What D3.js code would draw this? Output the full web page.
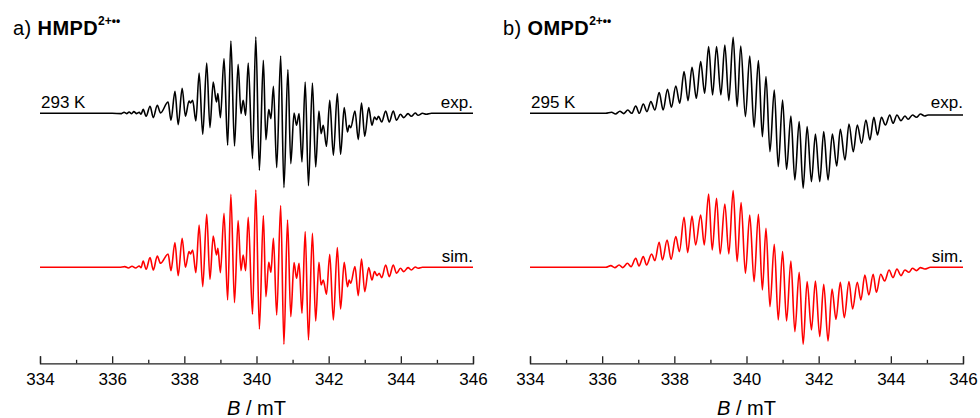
<!DOCTYPE html>
<html><head><meta charset="utf-8">
<script src="https://cdn.jsdelivr.net/npm/d3@7"></script>
<style>
body{margin:0;background:#fff}
text{font-family:"Liberation Sans",Arial,Helvetica,sans-serif;fill:#000}
</style>
</head><body>
<svg id="chart" width="980" height="418"></svg>
<script>
// ---- data (B in mT, intensity in arbitrary units) ----
const majorTicks = [334, 336, 338, 340, 342, 344, 346];
const minorTicks = [335, 337, 339, 341, 343, 345];
const xDomain = [334, 346];

const hmpdExp = [[334,0],[336.0,0],[336.26,-0.3],[336.33,1],[336.40,-0.3],[336.47,1.3],[336.54,-0.3],[336.60,1.7],[336.68,-0.3],[336.75,1],[336.80,-1],
[336.86,4],[336.94,-3],[337.05,7],[337.14,-4.3],[337.25,8],[337.34,0.3],[337.55,11.3],[337.63,-7],[337.74,22],[337.83,-11.3],[337.94,25],[338.03,-3],[338.13,12.3],[338.17,10.3],[338.23,13],[338.32,-7.7],[338.41,40.3],[338.51,-21],[338.62,50.3],[338.71,-14.3],[338.80,31.3],[338.89,11.3],[338.93,19.7],[339.00,-4.3],[339.10,54.7],[339.20,-32],[339.29,72.3],[339.39,-32.7],[339.49,49],[339.57,-0.3],[339.63,13],[339.70,-2],[339.77,50.3],[339.89,-45.3],[339.98,76.3],[340.08,-57],[340.19,53],[340.26,-26.3],[340.34,3.7],[340.40,-5.3],[340.47,27],[340.56,-54.3],[340.67,57.3],[340.76,-74.3],[340.87,43.7],[340.95,-50.3],[341.04,0.3],[341.11,-12],[341.18,-0.3],[341.26,-48.7],[341.35,31.3],[341.44,-72.3],[341.55,30.3],[341.64,-53.7],[341.73,2.3],[341.79,-20.3],[341.85,-12],[341.94,-33],[342.03,13],[342.13,-42],[342.24,19.7],[342.33,-41],[342.43,5.7],[342.52,-18.7],[342.57,-12],[342.61,-14.3],[342.73,2.3],[342.82,-26.3],[342.91,10.3],[343.00,-23],[343.11,5.7],[343.20,-12],[343.27,-3.7],[343.33,-6.3],[343.38,-3],[343.47,-8.7],[343.58,2.3],[343.68,-8.7],[343.79,2.3],[343.88,-7],[343.99,-1],[344.08,-4.3],[344.20,-0.3],[344.29,-3],[344.40,0.3],[344.48,-2],[344.6,0],[344.7,-1],[344.85,0],[346,0]];

const hmpdSim = [[334,0],[336.2,0],[336.35,0.7],[336.45,-0.7],[336.55,1],[336.65,-0.7],[336.75,1.3],[336.80,-0.5],
[336.86,6.3],[336.94,-2],[337.05,9.7],[337.14,-2.7],[337.25,11.3],[337.34,4],[337.55,13.3],[337.63,-3.3],[337.74,24.7],[337.83,-8.3],[337.94,29],[338.03,0],[338.13,15.7],[338.17,13.3],[338.23,17.3],[338.32,-5.3],[338.41,42.3],[338.51,-19.3],[338.62,53],[338.71,-12],[338.80,31.3],[338.89,12.3],[338.93,19],[339.00,-5.3],[339.10,54],[339.20,-32.7],[339.29,73],[339.39,-35.3],[339.49,46.7],[339.57,-3.3],[339.63,12.3],[339.70,-3.3],[339.77,50],
[339.89,-47],[339.98,77.3],[340.08,-61.7],[340.19,51.7],[340.26,-29.3],[340.34,5],[340.40,-5],[340.47,29],[340.56,-47.7],[340.67,61.7],[340.76,-77],[340.86,47.3],[340.95,-49.3],[341.04,4.7],[341.11,-11],[341.18,4],[341.26,-46],[341.35,35.7],[341.44,-72.7],[341.55,34],[341.64,-53.7],[341.73,5],[341.79,-17.7],[341.85,-12.7],[341.94,-27],[342.03,13],[342.13,-52.7],[342.24,19.7],[342.33,-41.7],[342.43,5],[342.52,-19.3],[342.57,-12.7],[342.61,-16],[342.73,0.7],[342.82,-28.3],[342.91,8.3],[343.00,-24.3],[343.11,-0.3],[343.20,-12.7],[343.27,-4.3],[343.34,-8.3],[343.40,-6],[343.47,-10.3],[343.58,2.3],[343.68,-9.3],[343.79,2.3],[343.88,-6],[343.99,-1],[344.08,-4.3],[344.20,-0.3],[344.29,-2.7],[344.40,0.3],[344.48,-1],[344.6,0],[346,0]];

const ompdExp = [[334,0],[336.1,0],[336.26,1],[336.37,-0.7],[336.49,2],[336.60,-0.3],[336.71,3.3],[336.82,0],[336.93,7.3],[337.03,0],[337.14,9.3],[337.24,1.7],[337.35,11.7],[337.46,3.3],[337.58,20.7],[337.69,3.3],[337.81,24],[337.92,6],[338.04,27.3],[338.15,10],[338.27,41.7],[338.38,12.7],[338.49,46],[338.61,15],[338.73,51.7],[338.84,20],[338.95,66.7],[339.06,18.3],[339.17,66.7],[339.29,18.3],[339.40,68.3],[339.51,12.7],[339.63,76],[339.74,6.7],[339.84,67.3],[339.97,-3.3],[340.09,57.3],[340.21,-14],[340.33,52.7],[340.44,-23.3],
[340.54,36.7],[340.65,-38.3],[340.77,23.3],[340.88,-53.3],[341.00,13.3],[341.11,-56],[341.23,-2.7],[341.34,-66.7],[341.46,-8.3],[341.57,-75],[341.68,-13.3],[341.80,-68.3],[341.91,-20.7],[342.03,-68.3],[342.14,-18.3],[342.26,-66.7],[342.38,-20.7],[342.50,-52.7],[342.60,-16],[342.73,-46.7],[342.84,-10.7],[342.96,-38.3],[343.07,-11.7],[343.19,-30],[343.31,-6.7],[343.42,-26.7],[343.53,-4],[343.63,-21.7],[343.74,-4],[343.85,-11.7],[343.97,-1.7],[344.06,-10],[344.17,-1.7],[344.28,-7.3],[344.39,-2.7],[344.48,-6],[344.60,-1.7],[344.71,-4],[344.82,-0.7],[344.94,-2.7],[345.03,-1.7],[346,-1.7]];

const ompdSim = [[334,0],[336.1,0],[336.24,1.7],[336.35,-0.3],[336.47,2.3],[336.57,-0.3],[336.70,4],[336.80,0.7],[336.93,9],[337.02,1.3],[337.14,10.7],[337.23,2.3],[337.37,13.3],[337.46,6.7],[337.58,25],[337.67,7.3],[337.80,27.3],[337.91,8],[338.04,30.7],[338.14,15.7],[338.27,50],[338.37,14.7],[338.49,51.3],[338.59,22.3],[338.73,52.3],[338.83,22.3],[338.95,73.3],[339.05,17.3],[339.17,69],[339.27,13.3],[339.40,63.3],[339.51,13.3],[339.63,76.7],[339.74,5.7],[339.85,64.7],[339.97,-6],[340.09,52.3],[340.21,-14.3],[340.33,53],[340.44,-22.7],
[340.54,39],[340.65,-39.3],[340.77,23],[340.88,-52.7],[341.00,15.7],[341.11,-53.7],[341.23,6.3],[341.34,-64.3],[341.46,-5],[341.57,-77],[341.68,-14.3],[341.80,-62.7],[341.91,-13.7],[342.03,-69.3],[342.14,-17],[342.26,-73.7],[342.37,-21.7],[342.48,-52],[342.60,-15],[342.71,-50.3],[342.84,-14.3],[342.94,-41.7],[343.07,-15],[343.17,-32.7],[343.28,-7.7],[343.39,-27.7],[343.51,-7],[343.60,-25],[343.72,-7],[343.83,-13.7],[343.95,-2.7],[344.06,-10.3],[344.17,-1.7],[344.28,-8.3],[344.39,-2.7],[344.50,-5],[344.60,-1],[344.71,-3.3],[344.82,-0.3],[344.94,-1.7],[345.1,0],[346,0]];

const panelLabels = ["a) ", "b) "];
const compoundNames = ["HMPD", "OMPD"];
const chargeLabel = "2+\u2022\u2022";
const temperatures = ["293 K", "295 K"];
const traceLabels = ["exp.", "sim."];
const axisTitleVar = "B";
const axisTitleUnit = " / mT";

// ---- drawing ----
const svg = d3.select("#chart");
svg.append("rect").attr("width",980).attr("height",418).attr("fill","#fff");

const panels = [
  {left:40, exp:hmpdExp, sim:hmpdSim, idx:0},
  {left:530, exp:ompdExp, sim:ompdSim, idx:1}
];
const plotW = 433;
const expBase = 113.3, simBase = 267.3, axisY = 363.3;

panels.forEach(p => {
  const g = svg.append("g");
  const x = d3.scaleLinear().domain(xDomain).range([p.left, p.left+plotW]);
  const yE = d3.scaleLinear().domain([-80,80]).range([expBase+80, expBase-80]);
  const yS = d3.scaleLinear().domain([-80,80]).range([simBase+80, simBase-80]);

  const lineE = d3.line().x(d=>x(d[0])).y(d=>yE(d[1])).curve(d3.curveMonotoneX);
  const lineS = d3.line().x(d=>x(d[0])).y(d=>yS(d[1])).curve(d3.curveMonotoneX);

  g.append("path").attr("d", lineE(p.exp)).attr("fill","none").attr("stroke","#000").attr("stroke-width",1.6).attr("stroke-linejoin","round");
  g.append("path").attr("d", lineS(p.sim)).attr("fill","none").attr("stroke","#ff0000").attr("stroke-width",1.6).attr("stroke-linejoin","round");

  // axis
  const ax = g.append("g").attr("transform",`translate(0,${axisY})`)
    .call(d3.axisBottom(x).tickValues(majorTicks).tickSize(-7).tickPadding(10).tickFormat(d3.format("d")));
  ax.select(".domain").attr("stroke","#222").attr("stroke-width",1.3);
  ax.selectAll(".tick line").attr("stroke","#222").attr("stroke-width",1.3);
  ax.selectAll(".tick text").attr("font-size",17).attr("fill","#000")
    .style("font-family",'"Liberation Sans",Arial,sans-serif');
  const axm = g.append("g").attr("transform",`translate(0,${axisY})`)
    .call(d3.axisBottom(x).tickValues(minorTicks).tickSize(-3.5).tickFormat(""));
  axm.select(".domain").remove();
  axm.selectAll(".tick line").attr("stroke","#222").attr("stroke-width",1.3);

  // axis title
  const t = g.append("text").attr("x", p.left+plotW/2).attr("y", 415).attr("text-anchor","middle").attr("font-size",20);
  t.append("tspan").attr("font-style","italic").text(axisTitleVar);
  t.append("tspan").text(axisTitleUnit);

  // panel title
  const tt = g.append("text").attr("x", p.left-27).attr("y", 35).attr("font-size",20).attr("letter-spacing",0.4);
  tt.append("tspan").text(panelLabels[p.idx]);
  tt.append("tspan").attr("font-weight","bold").text(compoundNames[p.idx]);
  tt.append("tspan").attr("font-weight","bold").attr("font-size",12).attr("dy",-10).attr("letter-spacing",0).text(chargeLabel);

  // labels
  g.append("text").attr("x", p.left+1).attr("y", 108).attr("font-size",17).text(temperatures[p.idx]);
  g.append("text").attr("x", p.left+plotW).attr("y", 108).attr("font-size",17).attr("text-anchor","end").text(traceLabels[0]);
  g.append("text").attr("x", p.left+plotW).attr("y", 262).attr("font-size",17).attr("text-anchor","end").text(traceLabels[1]);
});
</script>
</body></html>
